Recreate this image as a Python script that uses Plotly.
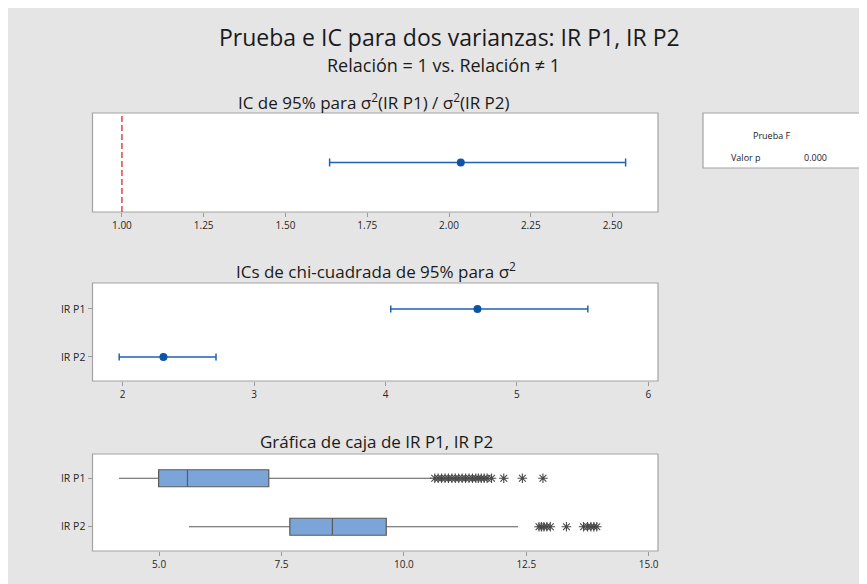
import plotly.graph_objects as go

W, H = 867, 584
OFF = 8  # page body margin offset

# ---------------- data ----------------
ratio_est = [2.036]
ratio_lo = [1.635]
ratio_hi = [2.540]
ratio_ref = 1.0

groups = ["IR P1", "IR P2"]
var_est = [4.70, 2.31]
var_lo = [4.04, 1.973]
var_hi = [5.54, 2.71]

box_lowerfence = [4.18, 5.61]
box_q1 = [4.99, 7.67]
box_median = [5.58, 8.54]
box_q3 = [7.24, 9.64]
box_upperfence = [10.57, 12.33]

out_p1 = [10.63, 10.70, 10.77, 10.84, 10.91, 10.98, 11.05, 11.12, 11.19, 11.26,
          11.33, 11.40, 11.47, 11.52, 11.58, 11.64, 11.70, 11.79, 12.04, 12.42, 12.84]
out_p2 = [12.76, 12.81, 12.86, 12.92, 12.99, 13.32, 13.67, 13.75, 13.82, 13.88, 13.94]

top_ticks = [1.00, 1.25, 1.50, 1.75, 2.00, 2.25, 2.50]
top_ticktext = ["1.00", "1.25", "1.50", "1.75", "2.00", "2.25", "2.50"]
mid_ticks = [2, 3, 4, 5, 6]
box_ticks = [5.0, 7.5, 10.0, 12.5, 15.0]
box_ticktext = ["5.0", "7.5", "10.0", "12.5", "15.0"]

# ---------------- layout helpers ----------------
def px_x(v):
    return (v - OFF) / W

def px_y(v):
    return 1 - (v - OFF) / H

X0, X1 = 92.5, 658.0
dom_x = [px_x(X0), px_x(X1)]
dom_top = [px_y(212), px_y(113)]
dom_mid = [px_y(381), px_y(283)]
dom_bot = [px_y(551), px_y(454)]

BLUE = "#1f62b4"
DOT = "#0b55a8"
FONT = "Open Sans"
TICKFONT = dict(family=FONT, size=10, color="#262626")
YTICKFONT = dict(family=FONT, size=10.5, color="#262626")

fig = go.Figure()

# top panel: CI for ratio
fig.add_trace(go.Scatter(
    x=ratio_est, y=[0], mode="markers",
    marker=dict(color=DOT, size=8),
    error_x=dict(type="data", symmetric=False,
                 array=[h - e for h, e in zip(ratio_hi, ratio_est)],
                 arrayminus=[e - l for e, l in zip(ratio_est, ratio_lo)],
                 color=BLUE, thickness=1.5, width=4),
    xaxis="x", yaxis="y", showlegend=False, hoverinfo="x"))

# middle panel: chi-square CIs
fig.add_trace(go.Scatter(
    x=var_est, y=groups, mode="markers",
    marker=dict(color=DOT, size=8),
    error_x=dict(type="data", symmetric=False,
                 array=[h - e for h, e in zip(var_hi, var_est)],
                 arrayminus=[e - l for e, l in zip(var_est, var_lo)],
                 color=BLUE, thickness=1.5, width=3.5),
    xaxis="x2", yaxis="y2", showlegend=False))

# bottom panel: boxplots
for i, g in enumerate(groups):
    fig.add_trace(go.Box(
        y=[g], orientation="h",
        q1=[box_q1[i]], median=[box_median[i]], q3=[box_q3[i]],
        lowerfence=[box_lowerfence[i]], upperfence=[box_upperfence[i]],
        fillcolor="#7ba4d9", line=dict(color="#5a5a5a", width=1.2),
        boxpoints=False, whiskerwidth=0, width=0.35,
        xaxis="x3", yaxis="y3", showlegend=False))

for vals, g in [(out_p1, "IR P1"), (out_p2, "IR P2")]:
    fig.add_trace(go.Scatter(
        x=vals, y=[g] * len(vals), mode="markers",
        marker=dict(symbol="asterisk-open", size=8, color="#4a4a4a",
                    line=dict(color="#4a4a4a", width=1.1)),
        xaxis="x3", yaxis="y3", showlegend=False))

axis_common = dict(showgrid=False, zeroline=False, showline=False,
                   ticks="outside", ticklen=4, tickcolor="#9a9a9a")

shapes = []
for d in (dom_top, dom_mid, dom_bot):
    shapes.append(dict(type="rect", xref="paper", yref="paper",
                       x0=dom_x[0], x1=dom_x[1], y0=d[0], y1=d[1],
                       fillcolor="white", line=dict(color="#a3a3a3", width=1.2),
                       layer="below"))
shapes.append(dict(type="rect", xref="paper", yref="paper",
                   x0=px_x(703), x1=px_x(890), y0=px_y(168), y1=px_y(113),
                   fillcolor="white", line=dict(color="#a3a3a3", width=1.2),
                   layer="below"))
shapes.append(dict(type="line", xref="x", yref="y domain",
                   x0=ratio_ref, x1=ratio_ref, y0=0, y1=1,
                   line=dict(color="#e3262b", width=1.3, dash="6px,3px")))

annotations = [
    dict(text="Prueba e IC para dos varianzas: IR P1, IR P2", x=px_x(449), y=px_y(37),
         font=dict(family=FONT, size=23, color="#1a1a1a")),
    dict(text="Relación = 1 vs. Relación ≠ 1", x=px_x(443), y=px_y(65),
         font=dict(family=FONT, size=18, color="#1a1a1a")),
    dict(text="IC de 95% para σ<sup>2</sup>(IR P1) / σ<sup>2</sup>(IR P2)", x=px_x(374), y=px_y(101),
         font=dict(family=FONT, size=17, color="#1a1a1a")),
    dict(text="ICs de chi-cuadrada de 95% para σ<sup>2</sup>", x=px_x(376), y=px_y(270),
         font=dict(family=FONT, size=17, color="#1a1a1a")),
    dict(text="Gráfica de caja de IR P1, IR P2", x=px_x(376), y=px_y(441),
         font=dict(family=FONT, size=17, color="#1a1a1a")),
    dict(text="Prueba F", x=px_x(772), y=px_y(135),
         font=dict(family=FONT, size=9, color="#1a1a1a")),
    dict(text="Valor p", x=px_x(746), y=px_y(157),
         font=dict(family=FONT, size=9, color="#1a1a1a")),
    dict(text="0.000", x=px_x(815), y=px_y(157),
         font=dict(family=FONT, size=9, color="#1a1a1a")),
]
for a in annotations:
    a.update(xref="paper", yref="paper", showarrow=False, xanchor="center", yanchor="middle")

fig.update_layout(
    width=W, height=H,
    margin=dict(l=0, r=0, t=0, b=0),
    paper_bgcolor="#e5e5e5", plot_bgcolor="rgba(0,0,0,0)",
    shapes=shapes, annotations=annotations,
    xaxis=dict(domain=dom_x, anchor="y", range=[0.910, 2.639],
               tickvals=top_ticks, ticktext=top_ticktext, tickfont=TICKFONT, **axis_common),
    yaxis=dict(domain=dom_top, anchor="x", range=[-1, 1], showticklabels=False,
               ticks="", showgrid=False, zeroline=False, showline=False),
    xaxis2=dict(domain=dom_x, anchor="y2", range=[1.770, 6.074],
                tickvals=mid_ticks, tickfont=TICKFONT, **axis_common),
    yaxis2=dict(domain=dom_mid, anchor="x2", type="category",
                categoryorder="array", categoryarray=["IR P2", "IR P1"],
                range=[-0.5, 1.54], tickfont=YTICKFONT, **axis_common),
    xaxis3=dict(domain=dom_x, anchor="y3", range=[3.64, 15.19],
                tickvals=box_ticks, ticktext=box_ticktext, tickfont=TICKFONT, **axis_common),
    yaxis3=dict(domain=dom_bot, anchor="x3", type="category",
                categoryorder="array", categoryarray=["IR P2", "IR P1"],
                range=[-0.5, 1.5], tickfont=YTICKFONT, **axis_common),
    boxmode="overlay",
)

fig.write_html("out.html")
